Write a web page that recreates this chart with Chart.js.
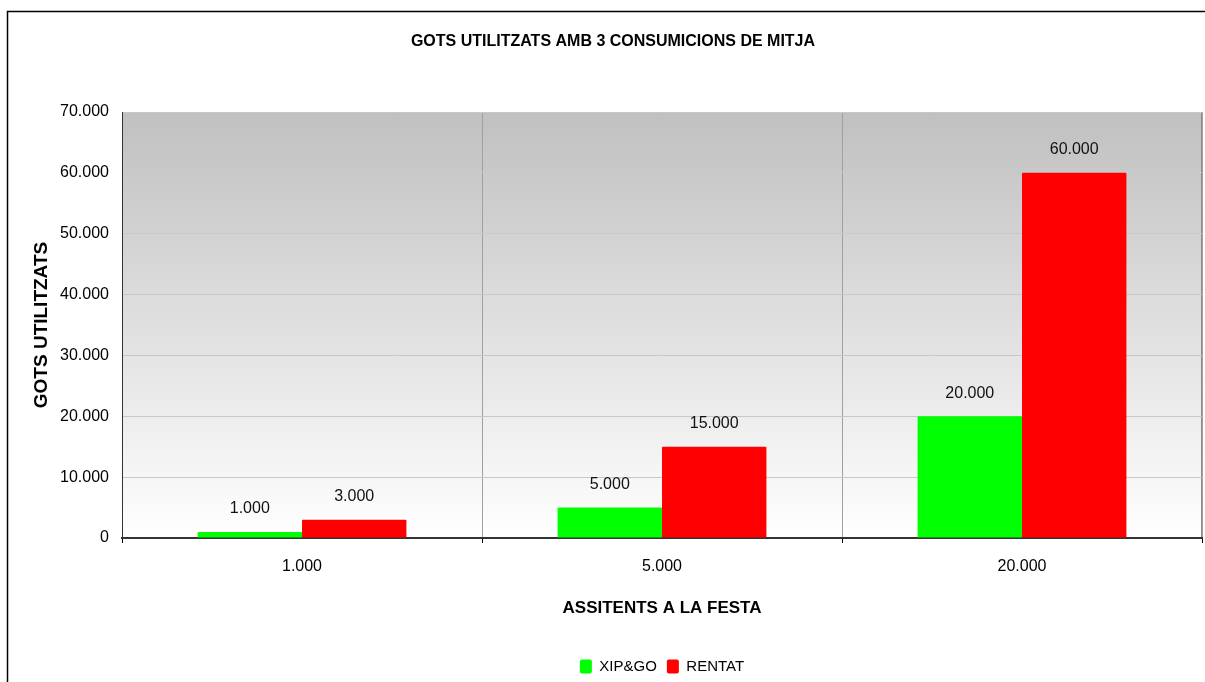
<!DOCTYPE html>
<html>
<head>
<meta charset="utf-8">
<script src="https://cdn.jsdelivr.net/npm/chart.js@4/dist/chart.umd.min.js"></script>
<style>
  html, body { margin: 0; padding: 0; background: #fff; }
  #wrap { width: 1205px; height: 682px; position: relative; }
</style>
</head>
<body>
<div id="wrap"><canvas id="c" width="1205" height="682"></canvas></div>
<script>
// ---- data ----
const categories = ['1.000', '5.000', '20.000'];
const seriesNames = ['XIP&GO', 'RENTAT'];
const xipgoValues = [1000, 5000, 20000];
const rentatValues = [3000, 15000, 60000];
const yTickValues = [0, 10000, 20000, 30000, 40000, 50000, 60000, 70000];
const chartTitle = 'GOTS UTILITZATS AMB 3 CONSUMICIONS DE MITJA';
const xAxisTitle = 'ASSITENTS A LA FESTA';
const yAxisTitle = 'GOTS UTILITZATS';

const FONT = "'Liberation Sans', Arial, sans-serif";
function fmt(v) { return String(v).replace(/\B(?=(\d{3})+(?!\d))/g, '.'); }

const frame = {
  id: 'frame',
  beforeDraw(chart) {
    const {ctx, chartArea: a} = chart;
    ctx.save();
    ctx.fillStyle = '#fff';
    ctx.fillRect(0, 0, chart.width, chart.height);
    ctx.strokeStyle = '#000';
    ctx.lineWidth = 1.5;
    ctx.strokeRect(7.5, 11.5, chart.width + 20, chart.height + 20);
    const g = ctx.createLinearGradient(0, a.top, 0, a.bottom);
    g.addColorStop(0, '#c0c0c0');
    g.addColorStop(1, '#ffffff');
    ctx.fillStyle = g;
    ctx.fillRect(a.left, a.top, a.right - a.left, a.bottom - a.top);
    ctx.strokeStyle = '#8c8c8c';
    ctx.lineWidth = 1;
    ctx.strokeRect(a.left + 0.5, a.top + 0.5, a.right - a.left - 1, a.bottom - a.top);
    ctx.restore();
  }
};

const valueLabels = {
  id: 'valueLabels',
  afterDatasetsDraw(chart) {
    const {ctx} = chart;
    ctx.save();
    ctx.font = '16px ' + FONT;
    ctx.fillStyle = '#111';
    ctx.textAlign = 'center';
    ctx.textBaseline = 'middle';
    chart.data.datasets.forEach((ds, i) => {
      chart.getDatasetMeta(i).data.forEach((bar, j) => {
        ctx.fillText(fmt(ds.data[j]), bar.x, bar.y - 23);
      });
    });
    ctx.restore();
  }
};

new Chart(document.getElementById('c'), {
  type: 'bar',
  data: {
    labels: categories,
    datasets: [
      { label: seriesNames[0], data: xipgoValues, backgroundColor: '#00ff00', borderWidth: 0, borderRadius: 1,
        categoryPercentage: 0.58, barPercentage: 1.0 },
      { label: seriesNames[1], data: rentatValues, backgroundColor: '#ff0000', borderWidth: 0, borderRadius: 1,
        categoryPercentage: 0.58, barPercentage: 1.0 }
    ]
  },
  options: {
    responsive: false,
    animation: false,
    layout: { padding: { left: 24, right: 3, top: 0, bottom: -2 } },
    plugins: {
      title: {
        display: true, text: chartTitle, color: '#000',
        font: { family: FONT, size: 16, weight: 'bold' },
        padding: { top: 32.4, bottom: 60.4 }
      },
      legend: {
        position: 'bottom',
        fullSize: false,
        labels: {
          color: '#000', font: { family: FONT, size: 15 },
          boxWidth: 12, boxHeight: 14, padding: 10,
          useBorderRadius: true, borderRadius: 2
        }
      },
      tooltip: { enabled: false }
    },
    scales: {
      x: {
        grid: { offset: true, color: '#a0a0a0', tickColor: '#000', tickLength: 5, drawTicks: true, lineWidth: 1 },
        border: { color: '#333', width: 2 },
        ticks: { color: '#000', font: { family: FONT, size: 16 }, padding: 14, maxRotation: 0 },
        title: { display: true, text: xAxisTitle, color: '#000', font: { family: FONT, size: 17, weight: 'bold' },
                 padding: { top: 0, bottom: 30.8 } },
        afterFit(s) { s.height = 111; }
      },
      y: {
        min: 0, max: 70000,
        afterBuildTicks(s) { s.ticks = yTickValues.map(v => ({ value: v })); },
        grid: { color: '#c8c8c8', drawTicks: false },
        border: { color: '#333', width: 1 },
        ticks: { color: '#000', font: { family: FONT, size: 16 }, padding: 13, callback: v => fmt(v) },
        title: { display: true, text: yAxisTitle, color: '#000', font: { family: FONT, size: 19, weight: 'bold' },
                 padding: { top: 6, bottom: 0 } },
        afterFit(s) { s.width = 98; }
      }
    }
  },
  plugins: [frame, valueLabels]
});
</script>
</body>
</html>
